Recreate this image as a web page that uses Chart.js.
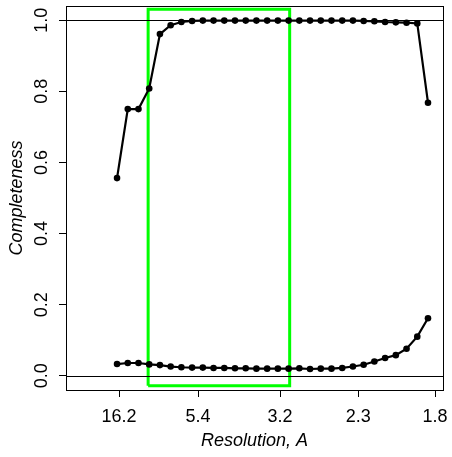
<!DOCTYPE html>
<html>
<head>
<meta charset="utf-8">
<script src="https://cdn.jsdelivr.net/npm/chart.js@4/dist/chart.umd.min.js"></script>
<style>
  html, body { margin: 0; padding: 0; background: #fff; }
</style>
</head>
<body>
<canvas id="complChart" width="452" height="457"></canvas>
<script>
// resolution bins (equal steps in 1/d)
const bins = [0, 1, 2, 3, 4, 5, 6, 7, 8, 9, 10, 11, 12, 13, 14, 15, 16, 17, 18, 19, 20, 21, 22, 23, 24, 25, 26, 27, 28, 29];

const upperCompl = [0.556, 0.750, 0.750, 0.808, 0.961, 0.986, 0.995, 0.998, 0.999, 0.999,
  0.999, 0.999, 0.999, 0.999, 0.999, 0.999, 0.999, 0.999, 0.999, 0.999,
  0.999, 0.999, 0.999, 0.998, 0.997, 0.995, 0.994, 0.993, 0.991, 0.768];

const lowerCompl = [0.033, 0.036, 0.036, 0.032, 0.030, 0.026, 0.024, 0.023, 0.023, 0.022,
  0.022, 0.021, 0.021, 0.020, 0.020, 0.020, 0.020, 0.021, 0.019, 0.020,
  0.020, 0.022, 0.026, 0.031, 0.040, 0.050, 0.058, 0.076, 0.110, 0.162];

// x tick positions (in bin units) and their resolution labels
const xTickAt = [0.19, 7.56, 15.2, 22.5, 29.66];
const xTickLabels = ["16.2", "5.4", "3.2", "2.3", "1.8"];
const yTicks = [0, 0.2, 0.4, 0.6, 0.8, 1.0];

// selected resolution range (green box)
const selBins = [2.9, 16.1];
const selY = [-0.028, 1.031];

const refLines = [0, 1];

const FONT = "'Liberation Sans', Arial, sans-serif";
const FSIZE = 18;

const toPoints = (vals) => bins.map((b, i) => ({ x: b, y: vals[i] }));

const framePlugin = {
  id: "frame",
  afterDraw(chart) {
    const { ctx, chartArea: a, scales } = chart;
    ctx.save();
    ctx.strokeStyle = "#000";
    ctx.lineWidth = 1;
    refLines.forEach((v) => {
      const y = Math.round(scales.y.getPixelForValue(v)) + 0.5;
      ctx.beginPath();
      ctx.moveTo(a.left, y);
      ctx.lineTo(a.right, y);
      ctx.stroke();
    });
    ctx.strokeRect(Math.round(a.left) + 0.5, Math.round(a.top) + 0.5,
      Math.round(a.right - a.left), Math.round(a.bottom - a.top));
    ctx.restore();
  },
};

const ctx = document.getElementById("complChart").getContext("2d");

new Chart(ctx, {
  type: "scatter",
  data: {
    datasets: [
      {
        data: toPoints(upperCompl),
        showLine: true,
        borderColor: "#000",
        backgroundColor: "#000",
        borderWidth: 2.2,
        pointRadius: 3.3,
        pointBorderWidth: 0,
      },
      {
        data: toPoints(lowerCompl),
        showLine: true,
        borderColor: "#000",
        backgroundColor: "#000",
        borderWidth: 2.2,
        pointRadius: 3.3,
        pointBorderWidth: 0,
      },
      {
        data: [
          { x: selBins[0], y: selY[0] },
          { x: selBins[0], y: selY[1] },
          { x: selBins[1], y: selY[1] },
          { x: selBins[1], y: selY[0] },
          { x: selBins[0], y: selY[0] },
        ],
        showLine: true,
        borderColor: "#00ff00",
        borderWidth: 3,
        pointRadius: 0,
        order: 1,
      },
    ],
  },
  options: {
    responsive: false,
    animation: false,
    events: [],
    layout: { autoPadding: false, padding: { top: 6, right: 9, left: 0, bottom: 0 } },
    plugins: { legend: { display: false }, tooltip: { enabled: false } },
    scales: {
      x: {
        type: "linear",
        min: -4.76,
        max: 30.4,
        afterBuildTicks: (s) => { s.ticks = xTickAt.map((v) => ({ value: v })); },
        afterFit: (s) => { s.height = 67; s.paddingLeft = 0; s.paddingRight = 0; },
        ticks: {
          autoSkip: false,
          maxRotation: 0,
          padding: 9,
          color: "#000",
          font: { family: FONT, size: FSIZE },
          callback: (v, i) => xTickLabels[i],
        },
        grid: { drawOnChartArea: false, tickLength: 7, color: "#000", tickColor: "#000" },
        border: { display: false },
        title: {
          display: true,
          text: "Resolution, A",
          color: "#000",
          font: { family: FONT, size: FSIZE, style: "italic" },
          padding: { top: 0, bottom: 5 },
        },
      },
      y: {
        type: "linear",
        min: -0.04,
        max: 1.04,
        afterBuildTicks: (s) => { s.ticks = yTicks.map((v) => ({ value: v })); },
        afterFit: (s) => { s.width = 66; s.paddingTop = 0; s.paddingBottom = 0; },
        ticks: {
          minRotation: 90,
          maxRotation: 90,
          crossAlign: "center",
          padding: 4,
          color: "#000",
          font: { family: FONT, size: FSIZE },
          callback: (v) => v.toFixed(1),
        },
        grid: { drawOnChartArea: false, tickLength: 7, color: "#000", tickColor: "#000" },
        border: { display: false },
        title: {
          display: true,
          text: "Completeness",
          color: "#000",
          font: { family: FONT, size: FSIZE, style: "italic" },
          padding: { top: 6, bottom: 0 },
        },
      },
    },
  },
  plugins: [framePlugin],
});
</script>
</body>
</html>
